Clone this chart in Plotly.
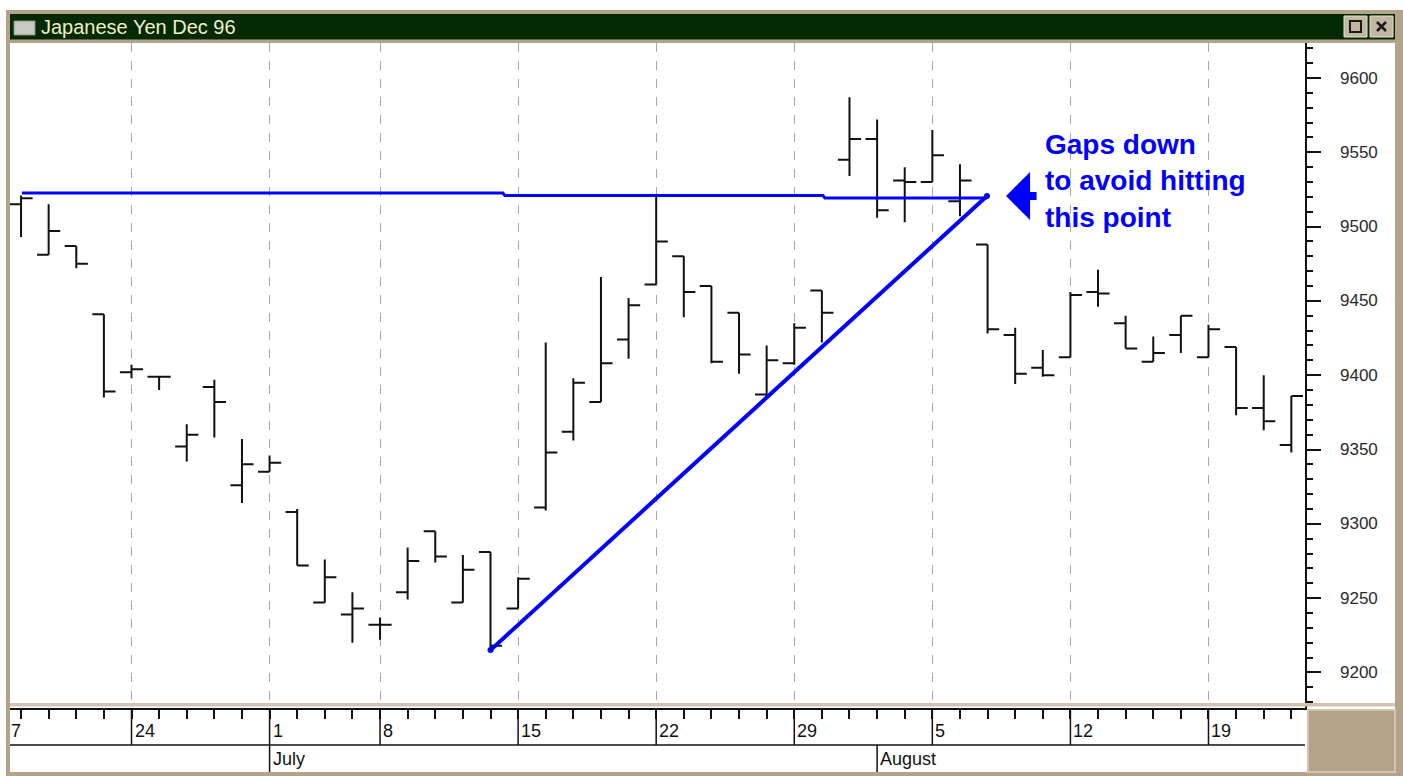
import plotly.graph_objects as go

# ---------------- data ----------------
dates = ["1996-06-18", "1996-06-19", "1996-06-20", "1996-06-21",
         "1996-06-24", "1996-06-25", "1996-06-26", "1996-06-27", "1996-06-28",
         "1996-07-01", "1996-07-02", "1996-07-03", "1996-07-05",
         "1996-07-08", "1996-07-09", "1996-07-10", "1996-07-11", "1996-07-12",
         "1996-07-15", "1996-07-16", "1996-07-17", "1996-07-18", "1996-07-19",
         "1996-07-22", "1996-07-23", "1996-07-24", "1996-07-25", "1996-07-26",
         "1996-07-29", "1996-07-30", "1996-07-31", "1996-08-01", "1996-08-02",
         "1996-08-05", "1996-08-06", "1996-08-07", "1996-08-08", "1996-08-09",
         "1996-08-12", "1996-08-13", "1996-08-14", "1996-08-15", "1996-08-16",
         "1996-08-19", "1996-08-20", "1996-08-21", "1996-08-22"]

opens = [9515, 9481, 9487, 9441,
         9402, 9399, 9352, 9392, 9326,
         9335, 9308, 9247, 9239,
         9232, 9254, 9295, 9247, 9281,
         9243, 9311, 9362, 9382, 9424,
         9461, 9480, 9460, 9442, 9387,
         9408, 9457, 9545, 9559, 9531,
         9530, 9517, 9488, 9427, 9405,
         9412, 9456, 9435, 9409, 9427,
         9412, 9419, 9378, 9353]
highs = [9521, 9515, 9487, 9441,
         9407, 9399, 9367, 9397, 9357,
         9346, 9310, 9276, 9254,
         9237, 9284, 9295, 9279, 9281,
         9264, 9422, 9398, 9466, 9452,
         9520, 9480, 9460, 9442, 9420,
         9435, 9457, 9587, 9572, 9540,
         9565, 9542, 9488, 9432, 9417,
         9456, 9471, 9440, 9426, 9440,
         9434, 9419, 9400, 9386]
lows = [9493, 9481, 9472, 9385,
        9398, 9390, 9342, 9358, 9314,
        9335, 9272, 9247, 9220,
        9222, 9249, 9274, 9247, 9215,
        9243, 9309, 9356, 9382, 9411,
        9461, 9439, 9408, 9401, 9386,
        9407, 9422, 9534, 9506, 9503,
        9530, 9507, 9428, 9394, 9399,
        9412, 9446, 9418, 9409, 9415,
        9412, 9373, 9363, 9348]
closes = [9519, 9497, 9475, 9389,
          9404, 9399, 9360, 9382, 9340,
          9341, 9272, 9264, 9243,
          9232, 9275, 9278, 9269, 9218,
          9263, 9348, 9395, 9408, 9447,
          9490, 9456, 9409, 9414, 9410,
          9432, 9442, 9559, 9511, 9530,
          9548, 9531, 9431, 9401, 9400,
          9454, 9455, 9418, 9415, 9440,
          9431, 9378, 9369, 9386]

price_ticks = [9200, 9250, 9300, 9350, 9400, 9450, 9500, 9550, 9600]

week_starts = ["1996-06-24", "1996-07-01", "1996-07-08", "1996-07-15", "1996-07-22",
               "1996-07-29", "1996-08-05", "1996-08-12", "1996-08-19"]
week_labels = ["24", "1", "8", "15", "22", "29", "5", "12", "19"]
month_starts = ["1996-07-01", "1996-08-01"]
month_labels = ["July", "August"]

# hand-drawn annotation lines (trading-day index, price)
resist_x = [0.03, 17.45, 17.52, 29.04, 29.11, 34.98]
resist_y = [9522.6, 9522.6, 9520.9, 9520.9, 9519.2, 9519.2]
trend_x = [17.0, 34.98]
trend_y = [9215, 9520.6]
arrow_x, arrow_y = 35.67, 9520.6
note_x, note_y = 37.01, 9530.7
note_text = "Gaps down<br>to avoid hitting<br>this point"
title_text = "Japanese Yen Dec 96"

# ---------------- derived ----------------
xi = list(range(len(dates)))
pos = {d: i for i, d in enumerate(dates)}

W, H = 1403, 776
L, R, T, B = 10, 1305, 43, 708
PW, PH = R - L, B - T


def px(p):
    return (p - L) / PW


def py(p):
    return (B - p) / PH


FONT = "Liberation Sans, Arial, sans-serif"
TAN = "#b3a38a"
TAN_LIGHT = "#cfc5b2"
BLUE = "#0000ff"

fig = go.Figure()
fig.add_trace(go.Ohlc(
    x=xi, open=opens, high=highs, low=lows, close=closes,
    increasing=dict(line=dict(color="#111111", width=2)),
    decreasing=dict(line=dict(color="#111111", width=2)),
    tickwidth=0.42, hoverinfo="skip", showlegend=False))

fig.add_trace(go.Scatter(x=resist_x, y=resist_y, mode="lines",
                         line=dict(color=BLUE, width=3), hoverinfo="skip", showlegend=False))
fig.add_trace(go.Scatter(x=trend_x, y=trend_y, mode="lines+markers",
                         line=dict(color=BLUE, width=4), marker=dict(color=BLUE, size=6),
                         hoverinfo="skip", showlegend=False))

shapes = []
# window frame
shapes.append(dict(type="rect", xref="paper", yref="paper", x0=px(8), x1=px(1403), y0=py(10), y1=py(43),
                   fillcolor=TAN, line=dict(width=0), layer="below"))
shapes.append(dict(type="rect", xref="paper", yref="paper", x0=px(10), x1=px(1395), y0=py(14), y1=py(39.5),
                   fillcolor="#032a03", line=dict(width=0), layer="below"))
shapes.append(dict(type="rect", xref="paper", yref="paper", x0=px(6), x1=px(10), y0=py(10), y1=py(776),
                   fillcolor=TAN, line=dict(width=0), layer="above"))
shapes.append(dict(type="rect", xref="paper", yref="paper", x0=px(1395), x1=px(1403), y0=py(10), y1=py(776),
                   fillcolor=TAN, line=dict(width=0), layer="above"))
shapes.append(dict(type="rect", xref="paper", yref="paper", x0=px(6), x1=px(1403), y0=py(772), y1=py(776),
                   fillcolor=TAN, line=dict(width=0), layer="above"))
# tan strip between chart and date scale
shapes.append(dict(type="rect", xref="paper", yref="paper", x0=px(10), x1=px(1395), y0=py(703), y1=py(706.5),
                   fillcolor=TAN_LIGHT, line=dict(width=0), layer="above"))
# bottom-right tan box
shapes.append(dict(type="rect", xref="paper", yref="paper", x0=px(1308), x1=px(1395), y0=py(710), y1=py(772),
                   fillcolor=TAN, line=dict(color=TAN_LIGHT, width=2), layer="above"))
# title icon and buttons
shapes.append(dict(type="rect", xref="paper", yref="paper", x0=px(14), x1=px(35), y0=py(21), y1=py(35),
                   fillcolor="#c9c9c3", line=dict(color="#8a8a80", width=1), layer="above"))
for b0 in (1344, 1370):
    shapes.append(dict(type="rect", xref="paper", yref="paper", x0=px(b0), x1=px(b0 + 23), y0=py(16), y1=py(37),
                       fillcolor="#c3b7a1", line=dict(color="#e6dfd0", width=1), layer="above"))
shapes.append(dict(type="rect", xref="paper", yref="paper", x0=px(1350), x1=px(1361), y0=py(21), y1=py(32),
                   fillcolor="rgba(0,0,0,0)", line=dict(color="#1a1a1a", width=2), layer="above"))
# close-button cross
shapes.append(dict(type="line", xref="paper", yref="paper", x0=px(1377), x1=px(1386), y0=py(22), y1=py(31),
                   line=dict(color="#1a1a1a", width=2.5), layer="above"))
shapes.append(dict(type="line", xref="paper", yref="paper", x0=px(1377), x1=px(1386), y0=py(31), y1=py(22),
                   line=dict(color="#1a1a1a", width=2.5), layer="above"))
# date scale: row separator
shapes.append(dict(type="line", xref="paper", yref="paper", x0=0, x1=1, y0=py(745), y1=py(745),
                   line=dict(color="#111111", width=1.5), layer="above"))
# week dividers
for d in week_starts:
    shapes.append(dict(type="line", xref="x", yref="paper", x0=pos[d], x1=pos[d], y0=py(708), y1=py(745),
                       line=dict(color="#111111", width=1.5), layer="above"))
# month dividers
for d in month_starts:
    shapes.append(dict(type="line", xref="x", yref="paper", x0=pos[d], x1=pos[d], y0=py(745), y1=py(772),
                       line=dict(color="#111111", width=1.5), layer="above"))

annotations = []
annotations.append(dict(text=title_text, xref="paper", yref="paper", x=px(39), y=py(27), xanchor="left",
                        yanchor="middle", showarrow=False, font=dict(family=FONT, size=20, color="#f2eec6")))
for d, lab in zip(week_starts, week_labels):
    annotations.append(dict(text=lab, xref="x", yref="paper", x=pos[d], y=py(731), xanchor="left",
                            yanchor="middle", xshift=1, showarrow=False,
                            font=dict(family=FONT, size=18, color="#111111")))
annotations.append(dict(text="7", xref="paper", yref="paper", x=px(9), y=py(731), xanchor="left",
                        yanchor="middle", showarrow=False, font=dict(family=FONT, size=18, color="#111111")))
for d, lab in zip(month_starts, month_labels):
    annotations.append(dict(text=lab, xref="x", yref="paper", x=pos[d], y=py(759), xanchor="left",
                            yanchor="middle", xshift=1, showarrow=False,
                            font=dict(family=FONT, size=18, color="#111111")))
for v in price_ticks:
    annotations.append(dict(text=str(v), xref="paper", yref="y", x=px(1338), y=v, xanchor="left",
                            yanchor="middle", showarrow=False,
                            font=dict(family=FONT, size=17, color="#2a2a2a")))
annotations.append(dict(text=" ", x=arrow_x, y=arrow_y, xref="x", yref="y", showarrow=True,
                        ax=32, ay=0, arrowhead=1, arrowsize=1, arrowwidth=8, arrowcolor=BLUE,
                        standoff=0, font=dict(size=1)))
annotations.append(dict(text="<b>" + note_text + "</b>", x=note_x, y=note_y, xref="x", yref="y",
                        xanchor="left", yanchor="middle", align="left", showarrow=False,
                        font=dict(family=FONT, size=28, color=BLUE)))

fig.update_layout(
    width=W, height=H,
    margin=dict(l=L, r=W - R, t=T, b=H - B, pad=0),
    paper_bgcolor="white", plot_bgcolor="white",
    showlegend=False,
    shapes=shapes, annotations=annotations,
    xaxis=dict(
        type="linear", range=[-0.400, 46.495],
        rangeslider=dict(visible=False),
        tickvals=[pos[d] for d in week_starts], showticklabels=False,
        ticks="outside", ticklen=9, tickcolor="#111111", tickwidth=1.5,
        showgrid=True, gridcolor="#a8a8a8", griddash="dash", gridwidth=1,
        minor=dict(dtick=1, tick0=0, ticks="outside", ticklen=9, tickcolor="#111111", tickwidth=1.5,
                   showgrid=False),
        showline=True, linecolor="#111111", linewidth=1.5,
        zeroline=False, fixedrange=True),
    yaxis=dict(
        side="right", range=[9176.04, 9623.55],
        tickvals=price_ticks, showticklabels=False,
        ticks="outside", ticklen=14, tickcolor="#111111", tickwidth=1.5,
        minor=dict(dtick=10, tick0=0, ticks="outside", ticklen=6, tickcolor="#111111", tickwidth=1.5,
                   showgrid=False),
        showgrid=False, zeroline=False,
        showline=True, linecolor="#111111", linewidth=2,
        fixedrange=True),
)

fig.write_html("out.html", config={"displayModeBar": False},
               post_script="document.body.style.margin='0';document.body.style.padding='0';"
                           "document.body.style.overflow='hidden';")
